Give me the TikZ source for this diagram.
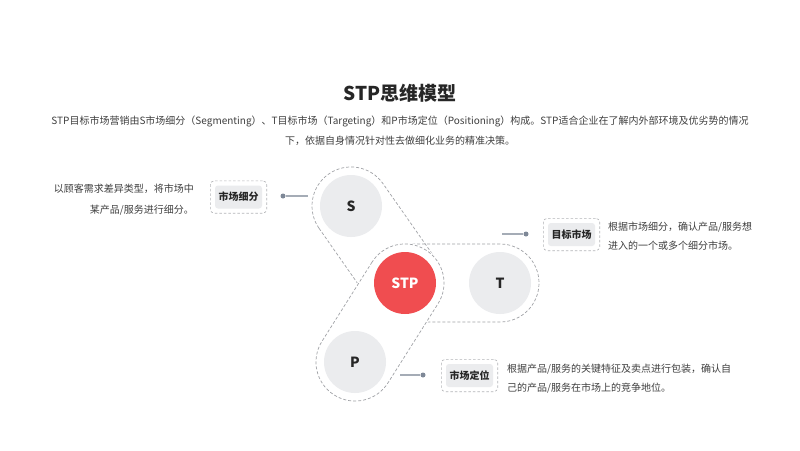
\documentclass[tikz,border=0pt]{standalone}
\usepackage{fontspec}
\setmainfont{Noto Sans CJK SC}
\usepackage{tikz}
\usetikzlibrary{positioning,fit,calc}
\definecolor{stpred}{HTML}{F04D50}
\definecolor{ballgray}{HTML}{EBECEE}
\definecolor{dashgray}{HTML}{A0A2A6}
\definecolor{txtgray}{HTML}{3F3F3F}
\definecolor{pingray}{HTML}{7E8897}

\begin{document}
\begin{tikzpicture}[x=1pt, y=-1pt,
      ball/.style={circle, fill=ballgray, minimum size=62pt, inner sep=0pt, font=\fontsize{14}{14}\selectfont\bfseries, text=black!85},
      lane/.style={draw=dashgray, dash pattern=on 3pt off 2pt, line width=0.7pt, rounded corners=38.9pt, minimum height=78pt, inner sep=0pt},
      tag/.style={fill=ballgray, rounded corners=3pt, minimum width=47pt, minimum height=23pt, inner sep=0pt, font=\fontsize{10}{10}\selectfont\bfseries, text=black!85},
      tagframe/.style={draw=dashgray!80, dash pattern=on 2.5pt off 2pt, line width=0.6pt, rounded corners=4pt, inner sep=4.5pt},
      note/.style={font=\fontsize{10}{18.5}\selectfont, text=txtgray, inner sep=0pt},
      pin/.style={circle, fill=pingray, minimum size=5pt, inner sep=0pt},
      wire/.style={draw=pingray!70, line width=1.2pt}]
    \fill[white] (0,0) rectangle (800,450);
    \useasboundingbox (0,0) rectangle (800,450);
    \node[font=\fontsize{19}{19}\selectfont\bfseries, text=black!85] (title) at (400,93) {STP思维模型};
    \node[font=\fontsize{10}{20}\selectfont, text=txtgray, align=center] (intro) at (400,131)
      {STP目标市场营销由S市场细分（Segmenting）、T目标市场（Targeting）和P市场定位（Positioning）构成。STP适合企业在了解内外部环境及优劣势的情况\\下，依据自身情况针对性去做细化业务的精准决策。};
    \node[lane, minimum width=172pt, rotate=125] (slane) at (378,244.5) {};
    \node[lane, minimum width=173pt] (tlane) at (452.5,283) {};
    \node[lane, minimum width=171.5pt, rotate=57.7, draw=white, solid, line width=2.5pt, fill=white] (pcover) at (380,322.5) {};
    \node[lane, minimum width=171.5pt, rotate=57.7] (plane) at (380,322.5) {};
    \node[ball] (s) at (351,206) {S};
    \node[ball, fill=stpred, text=white] (stp) at (405,283) {STP};
    \node[ball] (t) at (500,283) {T};
    \node[ball] (p) at (355,362) {P};
    \node[tag] (segtag) at (238.5,197) {市场细分};
    \node[tagframe, fit=(segtag)] (segframe) {};
    \node[tag] (tartag) at (571.5,234.5) {目标市场};
    \node[tagframe, fit=(tartag)] (tarframe) {};
    \node[tag] (postag) at (469.5,375.5) {市场定位};
    \node[tagframe, fit=(postag)] (posframe) {};
    \node[pin] (segpin) at (283,196) {};
    \node[pin] (tarpin) at (526,234) {};
    \node[pin] (pospin) at (423,375) {};
    \coordinate (segend) at (308,196);
    \coordinate (tarend) at (502,234);
    \coordinate (posend) at (400,375);
    \draw[wire] (segpin) -- (segend);
    \draw[wire] (tarpin) -- (tarend);
    \draw[wire] (pospin) -- (posend);
    \node[note, font=\fontsize{10}{21}\selectfont, align=right, anchor=east] (segnote) at (194,199.5)
      {以顾客需求差异类型，将市场中\\某产品/服务进行细分。};
    \node[note, align=left, anchor=west] (tarnote) at (608,236)
      {根据市场细分，确认产品/服务想\\进入的一个或多个细分市场。};
    \node[note, align=left, anchor=west] (posnote) at (507,378.5)
      {根据产品/服务的关键特征及卖点进行包装，确认自\\己的产品/服务在市场上的竞争地位。};
  \end{tikzpicture}
\end{document}
